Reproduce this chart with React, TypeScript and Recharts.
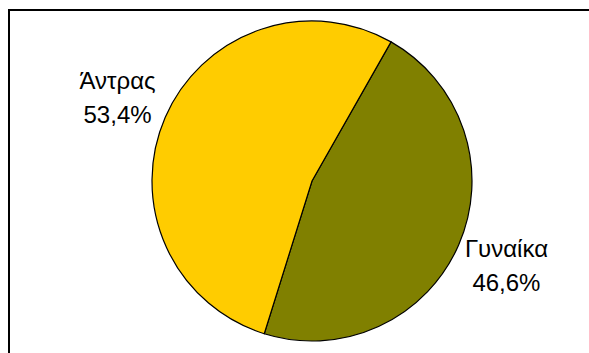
import React from 'react'
import { PieChart, Pie, Cell } from 'recharts'

const categories = ['Γυναίκα', 'Άντρας']
const shares = [46.6, 53.4]
const colors = ['#808000', '#FFCC00']

const data = categories.map((name, i) => ({ name, value: shares[i] }))

const RAD = Math.PI / 180

// two-line label placed out along the slice's mid angle
function SliceLabel({ cx, cy, midAngle, outerRadius, index }: any) {
  const r = outerRadius + 52
  const x = cx + r * Math.cos(-midAngle * RAD)
  const y = cy + r * Math.sin(-midAngle * RAD)
  const pct = shares[index].toFixed(1).replace('.', ',') + '%'
  return (
    <text
      x={x}
      y={y}
      textAnchor="middle"
      fill="#000"
      style={{ fontFamily: '"Liberation Sans", Arial, sans-serif', fontSize: 24 }}
    >
      <tspan x={x} y={y - 8}>{categories[index]}</tspan>
      <tspan x={x} y={y + 26}>{pct}</tspan>
    </text>
  )
}

export default function App() {
  return (
    <div style={{ position: 'fixed', top: 0, left: 0, width: 589, height: 353, overflow: 'hidden', background: '#fff' }}>
      <div
        style={{
          position: 'absolute',
          top: 9,
          left: 8,
          width: 700,
          height: 500,
          borderTop: '2px solid #000',
          borderLeft: '2px solid #000',
        }}
      />
      <div style={{ position: 'absolute', top: 0, left: 0 }}>
        <PieChart width={589} height={353} margin={{ top: 0, right: 0, bottom: 0, left: 0 }}>
          <Pie
            data={data}
            dataKey="value"
            cx={312}
            cy={181}
            outerRadius={160}
            startAngle={60.4}
            endAngle={-299.6}
            stroke="#000"
            strokeWidth={1.2}
            label={<SliceLabel />}
            labelLine={false}
            isAnimationActive={false}
          >
            {data.map((d, i) => (
              <Cell key={`cell-${i}`} fill={colors[i]} />
            ))}
          </Pie>
        </PieChart>
      </div>
    </div>
  )
}
